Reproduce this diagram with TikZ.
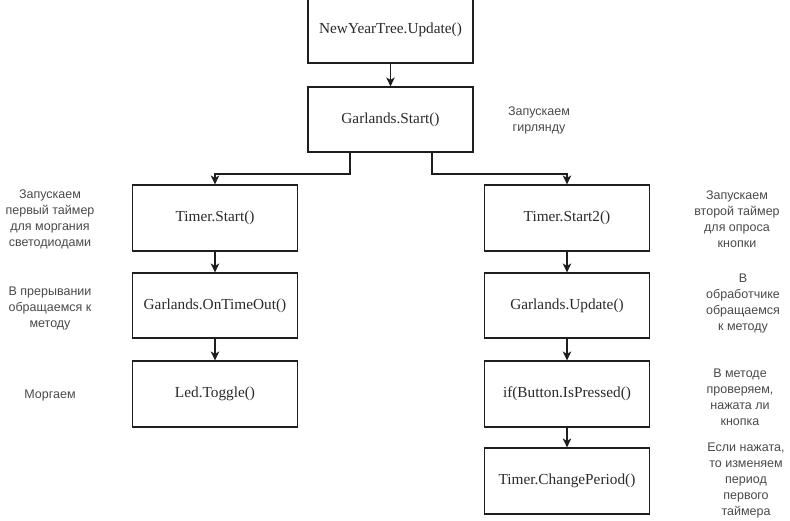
\documentclass[tikz,border=0pt]{standalone}
\usepackage{fontspec}
\setmainfont{Liberation Serif}
\newfontfamily\annfont{Liberation Sans}
\usetikzlibrary{arrows.meta}
\definecolor{boxtext}{HTML}{2A2A2A}
\definecolor{anntext}{HTML}{4A4A4A}
\definecolor{linecol}{HTML}{1E1E1E}
\tikzset{
  fbox/.style={draw=linecol, line width=1.2pt, minimum width=165pt, minimum height=66pt,
    inner sep=0pt, text=boxtext, font=\fontsize{15.3}{18}\selectfont},
  ann/.style={align=center, text=anntext, inner sep=0pt,
    font=\annfont\fontsize{12.5}{16}\selectfont},
  arr/.style={draw=linecol, line width=1.2pt, -{Stealth[length=9pt,width=8.5pt,inset=2.5pt]}}
}
\begin{document}
\begin{tikzpicture}[x=1pt,y=-1pt]
\useasboundingbox[fill=white] (0,0) rectangle (790,520);
\node[fbox] (ny) at (390.5,30) {NewYearTree.Update()};
\node[fbox, minimum height=65pt] (gs) at (390.5,119.5) {Garlands.Start()};
\node[fbox] (t1) at (215,218) {Timer.Start()};
\node[fbox, minimum height=65pt] (go) at (215,305.5) {Garlands.OnTimeOut()};
\node[fbox] (led) at (215,394) {Led.Toggle()};
\node[fbox] (t2) at (567,218) {Timer.Start2()};
\node[fbox, minimum height=65pt] (gu) at (567,305.5) {Garlands.Update()};
\node[fbox] (bp) at (567,394) {if(Button.IsPressed()};
\node[fbox] (cp) at (567,481) {Timer.ChangePeriod()};
\coordinate (jl) at (350,174);
\coordinate (jr) at (432,174);
\draw[arr] (ny) -- (gs);
\draw[arr] (gs.south -| jl) -- (jl) -| (t1.north);
\draw[arr] (gs.south -| jr) -- (jr) -| (t2.north);
\draw[arr] (t1) -- (go);
\draw[arr] (go) -- (led);
\draw[arr] (t2) -- (gu);
\draw[arr] (gu) -- (bp);
\draw[arr] (bp) -- (cp);
\node[ann] (a0) at (539,120) {Запускаем\\гирлянду};
\node[ann] (a1) at (50,219) {Запускаем\\первый таймер\\для моргания\\светодиодами};
\node[ann] (a2) at (50,308) {В прерывании\\обращаемся к\\методу};
\node[ann] (a3) at (50,395) {Моргаем};
\node[ann] (a4) at (737,219.5) {Запускаем\\второй таймер\\для опроса\\кнопки};
\node[ann] (a5) at (743,303) {В\\обработчике\\обращаемся\\к методу};
\node[ann] (a6) at (740,397) {В методе\\проверяем,\\нажата ли\\кнопка};
\node[ann] (a7) at (746,480) {Если нажата,\\то изменяем\\период\\первого\\таймера};
\end{tikzpicture}
\end{document}
